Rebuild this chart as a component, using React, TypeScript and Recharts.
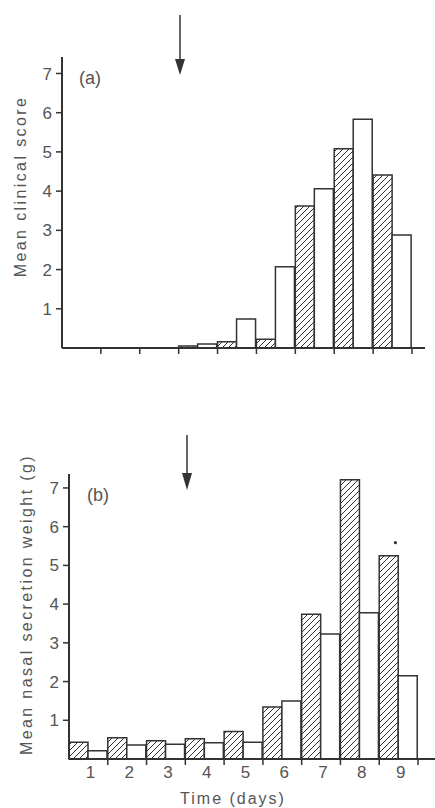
import { BarChart, Bar, XAxis, YAxis, LabelList } from 'recharts'

const days = ['1', '2', '3', '4', '5', '6', '7', '8', '9']
// hatched = first bar of each day, open = second bar
const clinicalHatched = [0, 0, 0, 0.05, 0.16, 0.22, 3.62, 5.08, 4.41]
const clinicalOpen = [0, 0, 0, 0.1, 0.74, 2.07, 4.06, 5.83, 2.88]
const nasalHatched = [0.43, 0.55, 0.47, 0.52, 0.71, 1.34, 3.74, 7.21, 5.25]
const nasalOpen = [0.21, 0.36, 0.38, 0.42, 0.43, 1.5, 3.23, 3.78, 2.15]
const nasalMarked = [false, false, false, false, false, false, false, false, true]
const yTicks = [1, 2, 3, 4, 5, 6, 7]

const INK = '#333'
const TEXT = '#555'
const FONT = '"Liberation Sans", Arial, sans-serif'

const clinicalData = days.map((d, i) => ({ day: d, hatched: clinicalHatched[i], open: clinicalOpen[i] }))
const nasalData = days.map((d, i) => ({
    day: d,
    hatched: nasalHatched[i],
    open: nasalOpen[i],
    mark: nasalMarked[i] ? '*' : '',
}))

function DayTick(props: any) {
    const { x, y, payload, showLabel } = props
    const half = payload && payload.offset != null ? payload.offset : 19.4
    return (
        <g>
            <line x1={x + half} x2={x + half} y1={y} y2={y + 6} stroke={INK} strokeWidth={1.5} />
            {showLabel && (
                <text x={x + 2} y={y + 19} textAnchor="middle" fill={TEXT} fontSize={17} fontFamily={FONT}>
                    {payload.value}
                </text>
            )}
        </g>
    )
}

function VerticalTitle(props: any) {
    const { viewBox, text, x, shift } = props
    const vb = viewBox || { y: 0, height: 0 }
    const cy = vb.y + vb.height / 2 + shift
    return (
        <text
            x={x}
            y={cy}
            transform={`rotate(-90 ${x} ${cy})`}
            textAnchor="middle"
            dominantBaseline="central"
            fill={TEXT}
            fontSize={16}
            letterSpacing={2.4}
            fontFamily={FONT}
        >
            {text}
        </text>
    )
}

function Hatch({ id }: { id: string }) {
    return (
        <defs>
            <pattern id={id} patternUnits="userSpaceOnUse" width="6" height="6">
                <rect width="6" height="6" fill="#fff" />
                <path d="M-1,1 L1,-1 M0,6 L6,0 M5,7 L7,5" stroke={INK} strokeWidth={1} />
            </pattern>
        </defs>
    )
}

const yTick = { fill: TEXT, fontSize: 17, fontFamily: FONT }

export default function App() {
    return (
        <div style={{ position: 'absolute', left: 0, top: 0, width: 435, height: 808, background: '#fff' }}>
            <BarChart
                width={435}
                height={400}
                data={clinicalData}
                margin={{ top: 57, right: 10, bottom: 0, left: 0 }}
                barGap={0}
                barCategoryGap={0}
            >
                <Hatch id="hatchA" />
                <XAxis
                    dataKey="day"
                    height={52}
                    padding={{ left: 0, right: 13 }}
                    axisLine={{ stroke: INK, strokeWidth: 2 }}
                    tickLine={false}
                    tickSize={0}
                    tickMargin={0}
                    tick={(p: any) => <DayTick {...p} showLabel={false} />}
                    interval={0}
                />
                <YAxis
                    width={62}
                    domain={[0, 7.42]}
                    ticks={yTicks}
                    axisLine={{ stroke: INK, strokeWidth: 2 }}
                    tickLine={{ stroke: INK, strokeWidth: 1.5 }}
                    tickSize={6}
                    tickMargin={4}
                    tick={yTick}
                    label={(p: any) => <VerticalTitle viewBox={p.viewBox} text="Mean clinical score" x={20} shift={-16} />}
                />
                <Bar dataKey="hatched" fill="url(#hatchA)" stroke={INK} strokeWidth={1.5} isAnimationActive={false} />
                <Bar dataKey="open" fill="#fff" stroke={INK} strokeWidth={1.5} isAnimationActive={false} />
            </BarChart>
            <BarChart
                width={435}
                height={408}
                data={nasalData}
                margin={{ top: 74, right: 0, bottom: 0, left: 0 }}
                barGap={0}
                barCategoryGap={0}
            >
                <Hatch id="hatchB" />
                <XAxis
                    dataKey="day"
                    height={49}
                    padding={{ left: 0, right: 17 }}
                    axisLine={{ stroke: INK, strokeWidth: 2 }}
                    tickLine={false}
                    tickSize={0}
                    tickMargin={0}
                    tick={(p: any) => <DayTick {...p} showLabel />}
                    interval={0}
                    label={(p: any) => {
                        const vb = p.viewBox || { x: 0, y: 0, width: 0 }
                        return (
                            <text x={233} y={vb.y + 45} textAnchor="middle" fill={TEXT} fontSize={16} letterSpacing={2} fontFamily={FONT}>
                                Time (days)
                            </text>
                        )
                    }}
                />
                <YAxis
                    width={69}
                    domain={[0, 7.36]}
                    ticks={yTicks}
                    axisLine={{ stroke: INK, strokeWidth: 2 }}
                    tickLine={{ stroke: INK, strokeWidth: 1.5 }}
                    tickSize={6}
                    tickMargin={4}
                    tick={yTick}
                    label={(p: any) => <VerticalTitle viewBox={p.viewBox} text="Mean nasal secretion weight (g)" x={26} shift={-12} />}
                />
                <Bar dataKey="hatched" fill="url(#hatchB)" stroke={INK} strokeWidth={1.5} isAnimationActive={false}>
                    <LabelList
                        dataKey="mark"
                        content={(p: any) =>
                            p.value ? <circle cx={p.x + p.width * 0.85} cy={p.y - 13} r={1.6} fill={INK} /> : null
                        }
                    />
                </Bar>
                <Bar dataKey="open" fill="#fff" stroke={INK} strokeWidth={1.5} isAnimationActive={false} />
            </BarChart>
            {/* arrows and panel letters */}
            <svg width={435} height={808} style={{ position: 'absolute', left: 0, top: 0, pointerEvents: 'none' }}>
                <line x1={180} x2={180} y1={15} y2={62} stroke={INK} strokeWidth={1.5} />
                <polygon points="175,59 185,59 180,75" fill={INK} />
                <line x1={187} x2={187} y1={435} y2={476} stroke={INK} strokeWidth={1.5} />
                <polygon points="182,473 192,473 187,490" fill={INK} />
                <text x={79} y={84} fill={TEXT} fontSize={18} fontFamily={FONT}>(a)</text>
                <text x={87} y={501} fill={TEXT} fontSize={18} fontFamily={FONT}>(b)</text>
            </svg>
        </div>
    )
}
